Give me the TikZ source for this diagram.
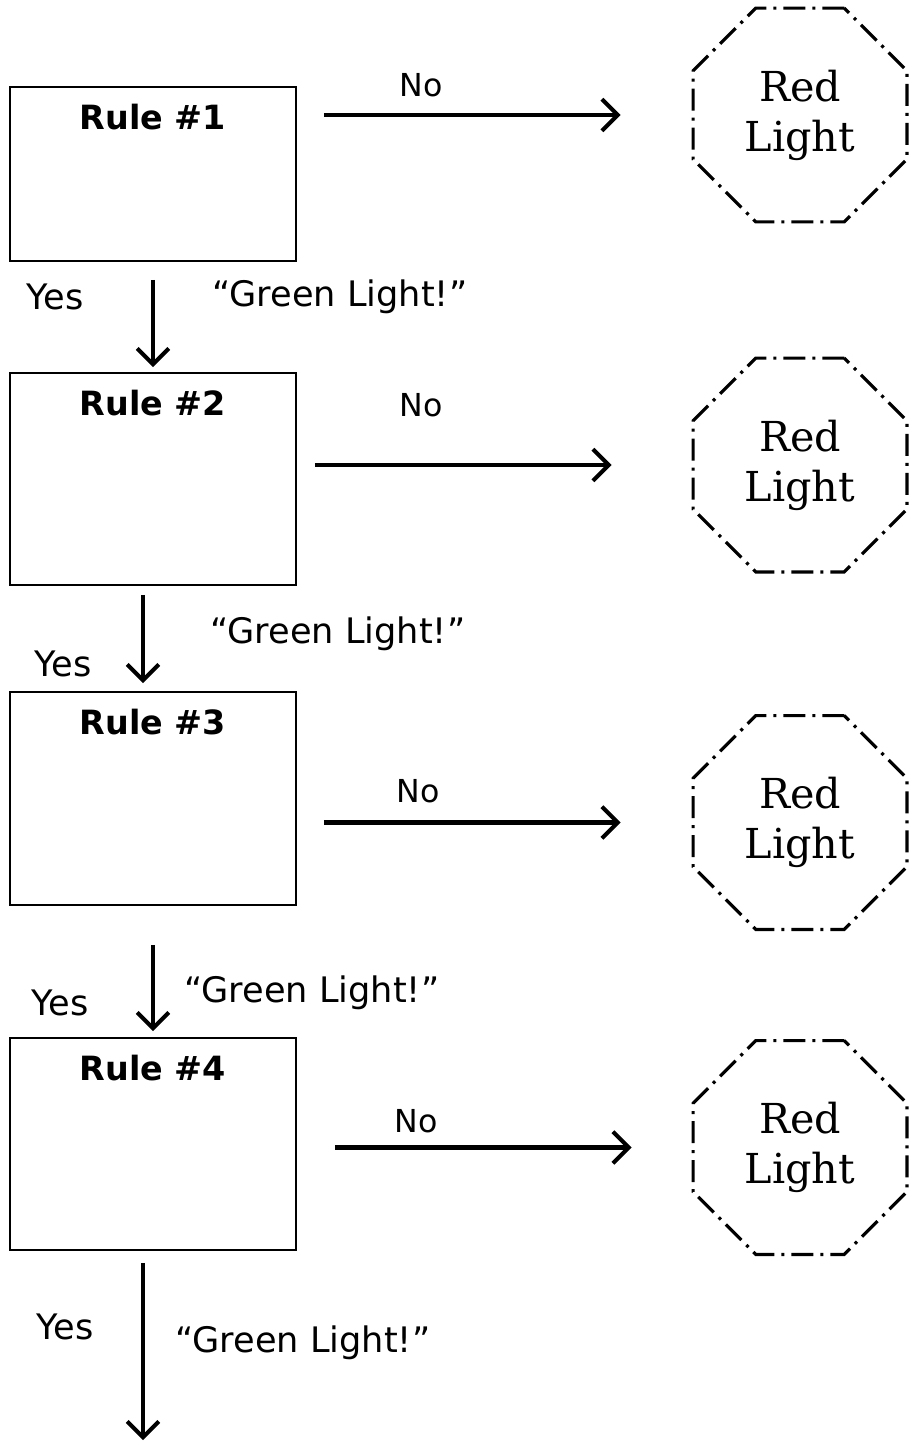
\documentclass[tikz,border=0pt]{standalone}
\usepackage{fontspec}
\usepackage{tikz}
\usetikzlibrary{arrows.meta,shapes.geometric}
\newfontfamily\handfont{DejaVu Sans}
\newfontfamily\signfont{DejaVu Serif}

\begin{document}
\begin{tikzpicture}[x=0.02cm,y=-0.02cm,
	rulebox/.style={draw,line width=1.1pt,minimum width=5.72cm,inner sep=0pt},
	rulename/.style={anchor=base,font=\handfont\bfseries\fontsize{19}{19}\selectfont},
	hand/.style={font=\handfont\fontsize{18}{18}\selectfont},
	green/.style={font=\handfont\fontsize{20}{20}\selectfont},
	stopsign/.style={draw,regular polygon,regular polygon sides=8,minimum size=4.63cm,inner sep=0pt,line width=1.8pt,dash pattern=on 0.44cm off 0.14cm on 0.06cm off 0.14cm,align=center,font=\signfont\fontsize{23.5}{28.5}\selectfont},
	flow/.style={line width=2.3pt,-{Straight Barb[length=9pt,width=18pt]}}]
	\useasboundingbox (0,0) rectangle (909,1443);
	% rule boxes
	\node[rulebox,minimum height=3.48cm] (rule1) at (153,174) {};
	\node[rulebox,minimum height=4.24cm] (rule2) at (153,479) {};
	\node[rulebox,minimum height=4.26cm] (rule3) at (153,798.5) {};
	\node[rulebox,minimum height=4.24cm] (rule4) at (153,1144) {};
	\foreach \n in {1,...,4}
	\node[rulename] (name\n) at ([yshift=-0.86cm]rule\n.north) {Rule \#\n};
	% red lights
	\node[stopsign] (red1) at (800,115) {Red\\Light};
	\node[stopsign] (red2) at (800,465) {Red\\Light};
	\node[stopsign] (red3) at (800,822.5) {Red\\Light};
	\node[stopsign] (red4) at (800,1147.5) {Red\\Light};
	% labels
	\node[hand] (no1) at (421,85) {No};
	\node[hand] (no2) at (421,405) {No};
	\node[hand] (no3) at (418,791) {No};
	\node[hand] (no4) at (416,1121) {No};
	\node[green] (yes1) at (55,297) {Yes};
	\node[green] (yes2) at (63,664) {Yes};
	\node[green] (yes3) at (60,1003) {Yes};
	\node[green] (yes4) at (65,1327) {Yes};
	\node[green] (green1) at (340,297) {“Green Light!”};
	\node[green] (green2) at (338,634) {“Green Light!”};
	\node[green] (green3) at (312,993) {“Green Light!”};
	\node[green] (green4) at (303,1343) {“Green Light!”};
	% no arrows
	\draw[flow,shorten <=0.54cm,shorten >=1.42cm] (rule1.east |- red1.west) -- (red1.west);
	\draw[flow,shorten <=0.36cm,shorten >=1.6cm] (rule2.east |- red2.west) -- (red2.west);
	\draw[flow,shorten <=0.54cm,shorten >=1.42cm] (rule3.east |- red3.west) -- (red3.west);
	\draw[flow,shorten <=0.76cm,shorten >=1.2cm] (rule4.east |- red4.west) -- (red4.west);
	% yes arrows
	\draw[flow,shorten <=0.36cm,shorten >=0.1cm] (rule1.south) -- (rule2.north);
	\draw[flow,shorten <=0.18cm,shorten >=0.16cm] ([xshift=-0.2cm]rule2.south) -- ([xshift=-0.2cm]rule3.north);
	\draw[flow,shorten <=0.78cm,shorten >=0.12cm] (rule3.south) -- (rule4.north);
	\coordinate (out) at (143,1440);
	\draw[flow,shorten <=0.24cm] (rule4.south -| out) -- (out);
\end{tikzpicture}
\end{document}
